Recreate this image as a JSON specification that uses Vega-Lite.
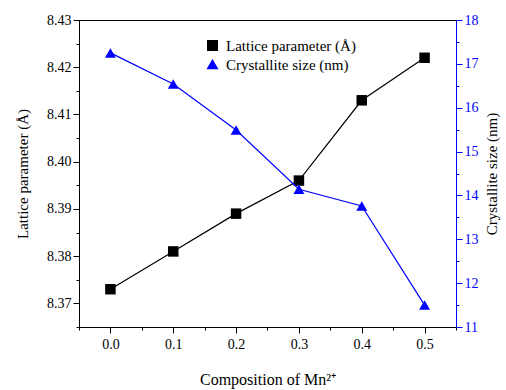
{
  "$schema": "https://vega.github.io/schema/vega-lite/v6.json",
  "width": 377,
  "height": 307,
  "autosize": "none",
  "padding": {"left": 79, "top": 20, "right": 50, "bottom": 63},
  "background": "white",
  "config": {
    "font": "Liberation Serif",
    "view": {"stroke": "black", "strokeWidth": 1},
    "axis": {"grid": false, "labelFont": "Liberation Serif", "titleFont": "Liberation Serif", "labelFontSize": 14, "titleFontSize": 15, "titleFontWeight": "normal", "domainColor": "black", "tickColor": "black", "labelColor": "black", "titleColor": "black"}
  },
  "data": {"values": [
    {"x": 0.0, "lattice": 8.373, "size": 17.25},
    {"x": 0.1, "lattice": 8.381, "size": 16.54},
    {"x": 0.2, "lattice": 8.389, "size": 15.49},
    {"x": 0.3, "lattice": 8.396, "size": 14.14},
    {"x": 0.4, "lattice": 8.413, "size": 13.76},
    {"x": 0.5, "lattice": 8.422, "size": 11.5}
  ]},
  "encoding": {
    "x": {"field": "x", "type": "quantitative", "scale": {"domain": [-0.05, 0.55], "nice": false, "zero": false},
      "axis": {"title": "Composition of Mn²⁺", "titleFontSize": 16, "values": [-0.05, 0, 0.05, 0.1, 0.15, 0.2, 0.25, 0.3, 0.35, 0.4, 0.45, 0.5, 0.55],
        "labelExpr": "abs(datum.value*10 - round(datum.value*10)) < 0.01 ? format(datum.value, '.1f') : ''",
        "tickSize": {"condition": {"test": "abs(datum.value*10 - round(datum.value*10)) < 0.01", "value": 6}, "value": 3},
        "labelPadding": 4, "titlePadding": 20, "labelFlush": false, "labelOverlap": false}},
    "color": {"field": "series", "type": "nominal", "scale": {"domain": ["Lattice parameter (Å)", "Crystallite size (nm)"], "range": ["black", "#0000ff"]},
      "legend": {"title": null, "orient": "none", "legendX": 126, "legendY": 18, "labelFontSize": 15, "labelFont": "Liberation Serif", "symbolSize": 90, "rowPadding": 3, "labelColor": "black", "labelOffset": 6}},
    "shape": {"field": "series", "type": "nominal", "scale": {"domain": ["Lattice parameter (Å)", "Crystallite size (nm)"], "range": ["square", "triangle-up"]}}
  },
  "layer": [
    {
      "transform": [{"calculate": "'Lattice parameter (Å)'", "as": "series"}],
      "mark": {"type": "line", "strokeWidth": 1.2, "point": {"filled": true, "size": 110, "opacity": 1}},
      "encoding": {
        "y": {"field": "lattice", "type": "quantitative", "scale": {"domain": [8.365, 8.43], "nice": false, "zero": false},
          "axis": {"title": "Lattice parameter (Å)", "values": [8.365, 8.37, 8.375, 8.38, 8.385, 8.39, 8.395, 8.4, 8.405, 8.41, 8.415, 8.42, 8.425, 8.43],
            "labelExpr": "abs(datum.value*100 - round(datum.value*100)) < 0.01 ? format(datum.value, '.2f') : ''",
            "tickSize": {"condition": {"test": "abs(datum.value*100 - round(datum.value*100)) < 0.01", "value": 6}, "value": 3},
            "labelOverlap": false, "labelFlush": false, "titlePadding": 16}}
      }
    },
    {
      "transform": [{"calculate": "'Crystallite size (nm)'", "as": "series"}],
      "mark": {"type": "line", "strokeWidth": 1.2, "point": {"filled": true, "size": 120, "opacity": 1}},
      "encoding": {
        "y": {"field": "size", "type": "quantitative", "scale": {"domain": [11, 18], "nice": false, "zero": false},
          "axis": {"orient": "right", "title": "Crystallite size (nm)", "titleAngle": 270, "titleBaseline": "top", "values": [11, 11.5, 12, 12.5, 13, 13.5, 14, 14.5, 15, 15.5, 16, 16.5, 17, 17.5, 18],
            "labelExpr": "datum.value % 1 == 0 ? format(datum.value, 'd') : ''",
            "tickSize": {"condition": {"test": "datum.value % 1 == 0", "value": 6}, "value": 3},
            "domainColor": "#0000ff", "tickColor": "#0000ff", "labelColor": "#0000ff", "labelOverlap": false, "labelFlush": false, "titlePadding": 6}}
      }
    }
  ],
  "resolve": {"scale": {"y": "independent"}}
}
